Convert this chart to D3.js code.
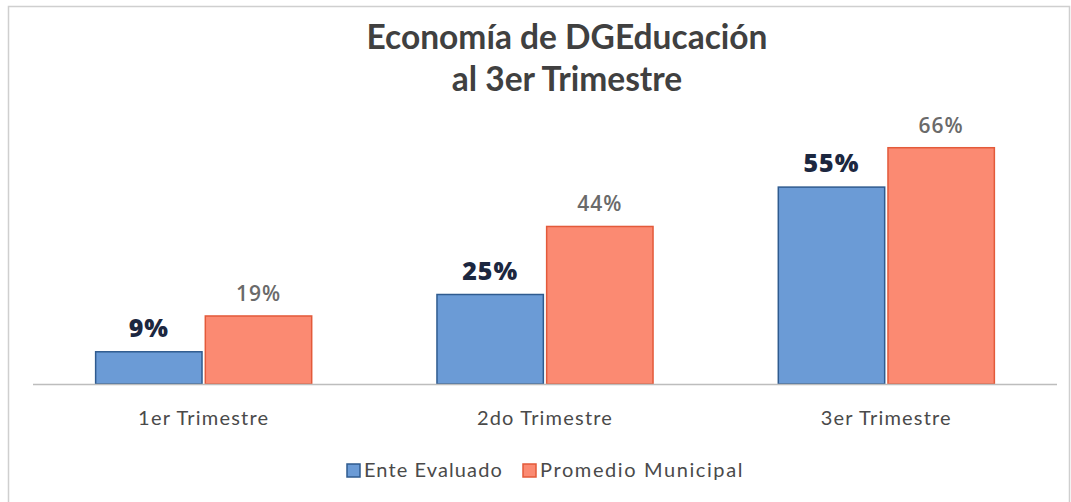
<!DOCTYPE html>
<html>
<head>
<meta charset="utf-8">
<script src="https://cdn.jsdelivr.net/npm/d3@7"></script>
<style>
  body { margin: 0; background: #fff; }
  svg { display: block; }
</style>
</head>
<body>
<div class="g-chart-container"></div>
<script>
// data
var categories = ["1er Trimestre", "2do Trimestre", "3er Trimestre"];
var seriesNames = ["Ente Evaluado", "Promedio Municipal"];
var enteEvaluado = [9, 25, 55];
var promedioMunicipal = [19, 44, 66];
var titleLines = ["Economía de DGEducación", "al 3er Trimestre"];

var width = 1071;
var height = 502;
var colors = {
  fill: ["#6b9bd6", "#fb8a72"],
  stroke: ["#2f5b8f", "#e35a3a"]
};

var svg = d3.select(".g-chart-container")
  .append("svg")
  .attr("width", width)
  .attr("height", height);

// outer frame
svg.append("rect")
  .attr("x", 8.5).attr("y", 6.5)
  .attr("width", 1061).attr("height", 500)
  .attr("fill", "#fff")
  .attr("stroke", "#cfcfcf")
  .attr("stroke-width", 1.5);

// title
svg.selectAll(".title")
  .data(titleLines)
  .enter()
  .append("text")
  .attr("class", "title")
  .attr("x", 567)
  .attr("y", function(d, i){ return 49 + i * 42; })
  .attr("text-anchor", "middle")
  .style("font-family", "Lato, 'Open Sans', sans-serif")
  .style("font-weight", 700)
  .style("font-size", "33.5px")
  .style("fill", "#404040")
  .text(function(d){ return d; });

// scales
var x0 = d3.scaleBand()
  .domain(categories)
  .range([33, 1057])
  .paddingInner(0.367)
  .paddingOuter(0.1835);

var x1 = d3.scaleBand()
  .domain(seriesNames)
  .range([0, x0.bandwidth()])
  .paddingInner(0.03);

var y = d3.scaleLinear()
  .domain([0, 70])
  .range([384, 133.4]);

var rows = categories.map(function(c, i){
  return {
    category: c,
    values: [
      { series: seriesNames[0], value: enteEvaluado[i], s: 0 },
      { series: seriesNames[1], value: promedioMunicipal[i], s: 1 }
    ]
  };
});

var groups = svg.selectAll(".group")
  .data(rows)
  .enter()
  .append("g")
  .attr("class", "group")
  .attr("transform", function(d){ return "translate(" + x0(d.category) + ",0)"; });

groups.selectAll("rect")
  .data(function(d){ return d.values; })
  .enter()
  .append("rect")
  .attr("x", function(d){ return x1(d.series); })
  .attr("y", function(d){ return y(d.value); })
  .attr("width", x1.bandwidth())
  .attr("height", function(d){ return y(0) - y(d.value); })
  .attr("fill", function(d){ return colors.fill[d.s]; })
  .attr("stroke", function(d){ return colors.stroke[d.s]; })
  .attr("stroke-width", 1.5);

// value labels
groups.selectAll(".val")
  .data(function(d){ return d.values; })
  .enter()
  .append("text")
  .attr("class", "val")
  .attr("x", function(d){ return x1(d.series) + x1.bandwidth() / 2; })
  .attr("y", function(d){ return y(d.value) - 15; })
  .attr("text-anchor", "middle")
  .style("font-family", "'Open Sans', sans-serif")
  .style("font-weight", function(d){ return d.s === 0 ? 800 : 600; })
  .style("font-size", function(d){ return d.s === 0 ? "25px" : "21px"; })
  .style("letter-spacing", "1px")
  .style("fill", function(d){ return d.s === 0 ? "#1c2740" : "#6a6a6a"; })
  .text(function(d){ return d.value + "%"; });

// baseline
svg.append("line")
  .attr("x1", 33).attr("x2", 1057)
  .attr("y1", y(0) + 0.5).attr("y2", y(0) + 0.5)
  .attr("stroke", "#bdbdbd")
  .attr("stroke-width", 1.5);

// category labels
svg.selectAll(".cat")
  .data(categories)
  .enter()
  .append("text")
  .attr("class", "cat")
  .attr("x", function(d){ return x0(d) + x0.bandwidth() / 2; })
  .attr("y", 425)
  .attr("text-anchor", "middle")
  .style("font-family", "Lato, sans-serif")
  .style("font-size", "20px")
  .style("letter-spacing", "1.2px")
  .style("fill", "#4a4a4a")
  .text(function(d){ return d; });

// legend
var legendX = [347, 523];
var legend = svg.selectAll(".legend")
  .data(seriesNames)
  .enter()
  .append("g")
  .attr("class", "legend")
  .attr("transform", function(d, i){ return "translate(" + legendX[i] + ",464)"; });

legend.append("rect")
  .attr("width", 13).attr("height", 13)
  .attr("fill", function(d, i){ return colors.fill[i]; })
  .attr("stroke", function(d, i){ return colors.stroke[i]; })
  .attr("stroke-width", 1.5);

legend.append("text")
  .attr("x", 17)
  .attr("y", 13)
  .style("font-family", "Lato, sans-serif")
  .style("font-size", "20px")
  .style("letter-spacing", function(d, i){ return i === 0 ? "1.1px" : "1.6px"; })
  .style("fill", "#4a4a4a")
  .text(function(d){ return d; });
</script>
</body>
</html>
